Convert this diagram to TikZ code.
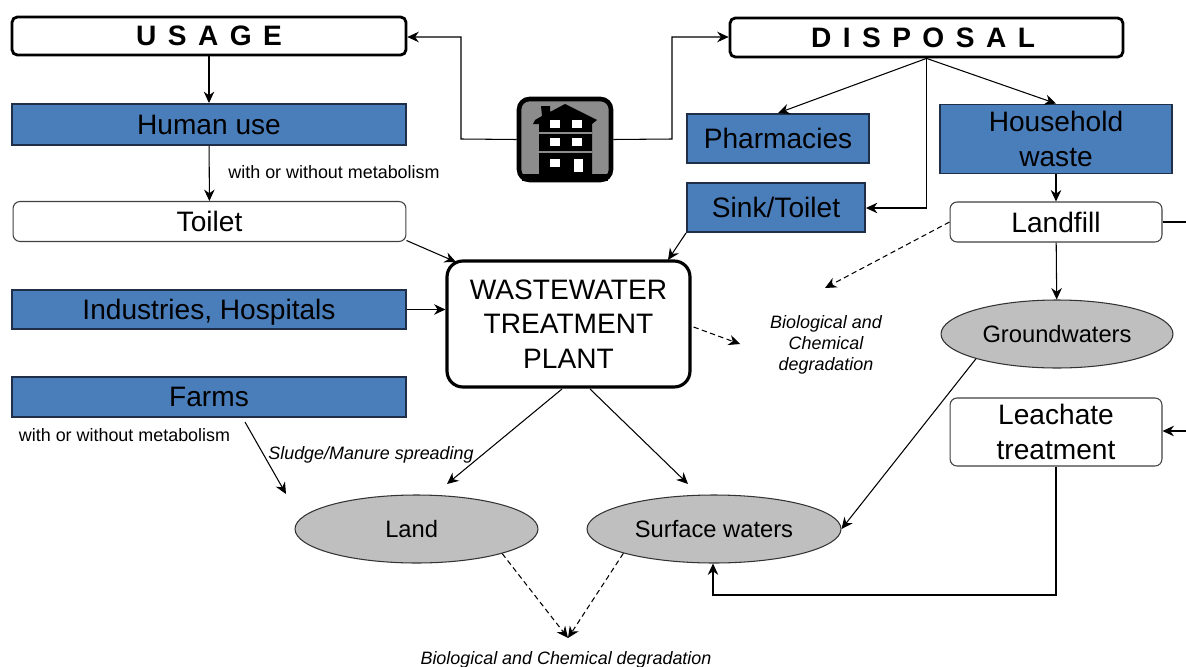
\documentclass[tikz,border=0pt]{standalone}
\usepackage{fontspec}
\setmainfont{Liberation Sans}
\newfontfamily\titlefont[LetterSpace=13]{Liberation Sans}
\usetikzlibrary{arrows.meta,shapes.geometric}
\definecolor{boxblue}{HTML}{4A7EBB}
\definecolor{boxline}{HTML}{1F2F4A}
\definecolor{ovalgrey}{HTML}{BFBFBF}
\definecolor{iconmid}{HTML}{8C8C8C}
\tikzset{
  big/.style={font=\fontsize{16}{19.5}\selectfont,align=center,inner sep=0pt},
  note/.style={font=\fontsize{10.2}{12}\selectfont,align=center,inner sep=0pt},
  slanted/.style={note,font=\fontsize{10.2}{12}\selectfont\itshape},
  titlebox/.style={draw,line width=1.6pt,rounded corners=3pt,fill=white,inner sep=0pt,
    font=\titlefont\fontsize{16}{18}\selectfont\bfseries},
  bluebox/.style={big,draw=boxline,line width=1.1pt,fill=boxblue},
  whitebox/.style={big,draw=black!75,line width=0.6pt,rounded corners=4pt,fill=white},
  oval/.style={ellipse,draw=black!80,line width=0.6pt,fill=ovalgrey,inner sep=0pt,
    font=\fontsize{13.5}{16}\selectfont},
  link/.style={-{Stealth[length=6.5pt,width=6pt]},line width=0.6pt},
  dashlink/.style={link,dashed,dash pattern=on 3pt off 2pt},
}
\begin{document}
\begin{tikzpicture}[x=0.02cm,y=-0.02cm]
\useasboundingbox (0,0) rectangle (1186,666);
\node[titlebox,minimum width=7.88cm,minimum height=0.76cm] (usage) at (209,36) {U S A G E};
\node[titlebox,minimum width=7.86cm,minimum height=0.78cm] (disposal) at (926.5,37.5) {D I S P O S A L\kern4pt};
\node[bluebox,minimum width=7.88cm,minimum height=0.82cm] (human) at (209,124.5) {Human use};
\node[whitebox,minimum width=7.86cm,minimum height=0.80cm] (toilet) at (209.5,221.5) {Toilet};
\node[bluebox,text depth=0pt,minimum width=7.88cm,minimum height=0.78cm] (industries) at (209,309.5) {Industries, Hospitals};
\node[bluebox,minimum width=7.88cm,minimum height=0.80cm] (farms) at (209,397) {Farms};
\node[bluebox,minimum width=3.64cm,minimum height=0.98cm] (pharmacies) at (778,138.5) {Pharmacies};
\node[bluebox,minimum width=4.64cm,minimum height=1.38cm] (household) at (1056,139) {Household\\waste};
\node[bluebox,minimum width=3.56cm,minimum height=0.98cm] (sink) at (776,207.5) {Sink/Toilet};
\node[whitebox,minimum width=4.24cm,minimum height=0.80cm] (landfill) at (1056,222) {Landfill};
\node[whitebox,minimum width=4.24cm,minimum height=1.36cm] (leachate) at (1056,432) {Leachate\\treatment};
\node[oval,minimum width=4.64cm,minimum height=1.36cm] (ground) at (1057,334) {Groundwaters};
\node[oval,minimum width=4.86cm,minimum height=1.36cm] (land) at (416.5,529) {Land\kern5.5pt};
\node[oval,minimum width=5.08cm,minimum height=1.36cm] (surface) at (714,529) {Surface waters};
\node[big,draw,line width=1.8pt,rounded corners=9pt,fill=white,minimum width=4.86cm,minimum height=2.52cm] (plant) at (568.5,324) {WASTEWATER\\TREATMENT\\PLANT};

\node[note] (meta1) at (334,172) {with or without metabolism};
\node[note] (meta2) at (124.5,435) {with or without metabolism};
\node[slanted] (sludge) at (371,455) {Sludge/Manure spreading};
\node[slanted] (degr1) at (826,345) {Biological and\\Chemical\\degradation};
\node[slanted] (degr2) at (566,660) {Biological and Chemical degradation};

% house
\node[draw,line width=2.6pt,rounded corners=6pt,fill=iconmid,minimum width=1.84cm,minimum height=1.62cm] (house) at (565,139.5) {};
\fill (522,174) rectangle (608,181);
\fill (539,180) -- (539,124) -- (533,124) -- (535,120) -- (542,116) -- (541,106) -- (550,106) -- (550,112)
   -- (565,104) -- (597,120) -- (592,124) -- (592,180) -- cycle;
\fill[iconmid] (539,132) rectangle (592,134);
\fill[iconmid] (539,151) rectangle (592,153);
\foreach \wx/\wy in {550/120,572/120,550/138,572/138,550/159}
  \fill[white] (\wx,\wy) rectangle ++(9.5,8);
\fill[white] (574,159) rectangle (583,172);

\coordinate (elbowl1) at (461,139);
\coordinate (elbowl2) at (461,37);
\coordinate (elbowr1) at (672,139);
\coordinate (elbowr2) at (672,37);
\coordinate (sinkdrop) at (926.5,208);
\coordinate (rightup) at (1186,222);
\coordinate (rightlow) at (1186,431);
\coordinate (loopa) at (1056,595);
\coordinate (loopb) at (713,595);
\coordinate (landtip) at (447,484);
\coordinate (surftip) at (688,484);
\coordinate (farmtip) at (286,494);
\coordinate (farmtail) at (245,422);
\coordinate (plantlow) at (562,389);
\coordinate (plantlow2) at (590,389);
\coordinate (midtip) at (825,288);
\coordinate (planttip) at (740,344);
\coordinate (sinktip) at (668,260);
\coordinate (degrtip) at (568,638);

\draw[link] (usage) -- (human);
\draw[link] (human) -- (toilet);
\draw[link] (toilet.east) ++(0,19) -- (456,262);
\draw[link] (industries) -- (plant.west |- industries);
\draw[link] (house.west) -- (elbowl1) -- (elbowl2) -- (usage.east |- elbowl2);
\draw[link] (house.east) -- (elbowr1) -- (elbowr2) -- (disposal.west |- elbowr2);
\draw[link] (disposal.south) -- (pharmacies.north);
\draw[link] (disposal.south) -- (household.north);
\draw[link] (disposal.south) -- (sinkdrop) -- (sink.east |- sinkdrop);
\draw[link] (household) -- (landfill);
\draw[link] (landfill) -- (ground);
\draw[link] (sink.south west) -- (sinktip);
\draw[line width=0.6pt] (landfill.east) -- (rightup);
\draw[link] (rightlow) -- (leachate.east |- rightlow);
\draw[link] (leachate.south) -- (loopa) -- (loopb) -- (surface.south -| loopb);
\draw[link] (ground.197) -- (surface.east);
\draw[link] (plantlow) -- (landtip);
\draw[link] (plantlow2) -- (surftip);
\draw[link] (farmtail) -- (farmtip);
\draw[dashlink] (landfill.west) -- (midtip);
\draw[dashlink] (plant.east) ++(2,3) -- (planttip);
\draw[dashlink] (land.344) -- (degrtip);
\draw[dashlink] (surface.195) -- (degrtip);
\end{tikzpicture}
\end{document}
